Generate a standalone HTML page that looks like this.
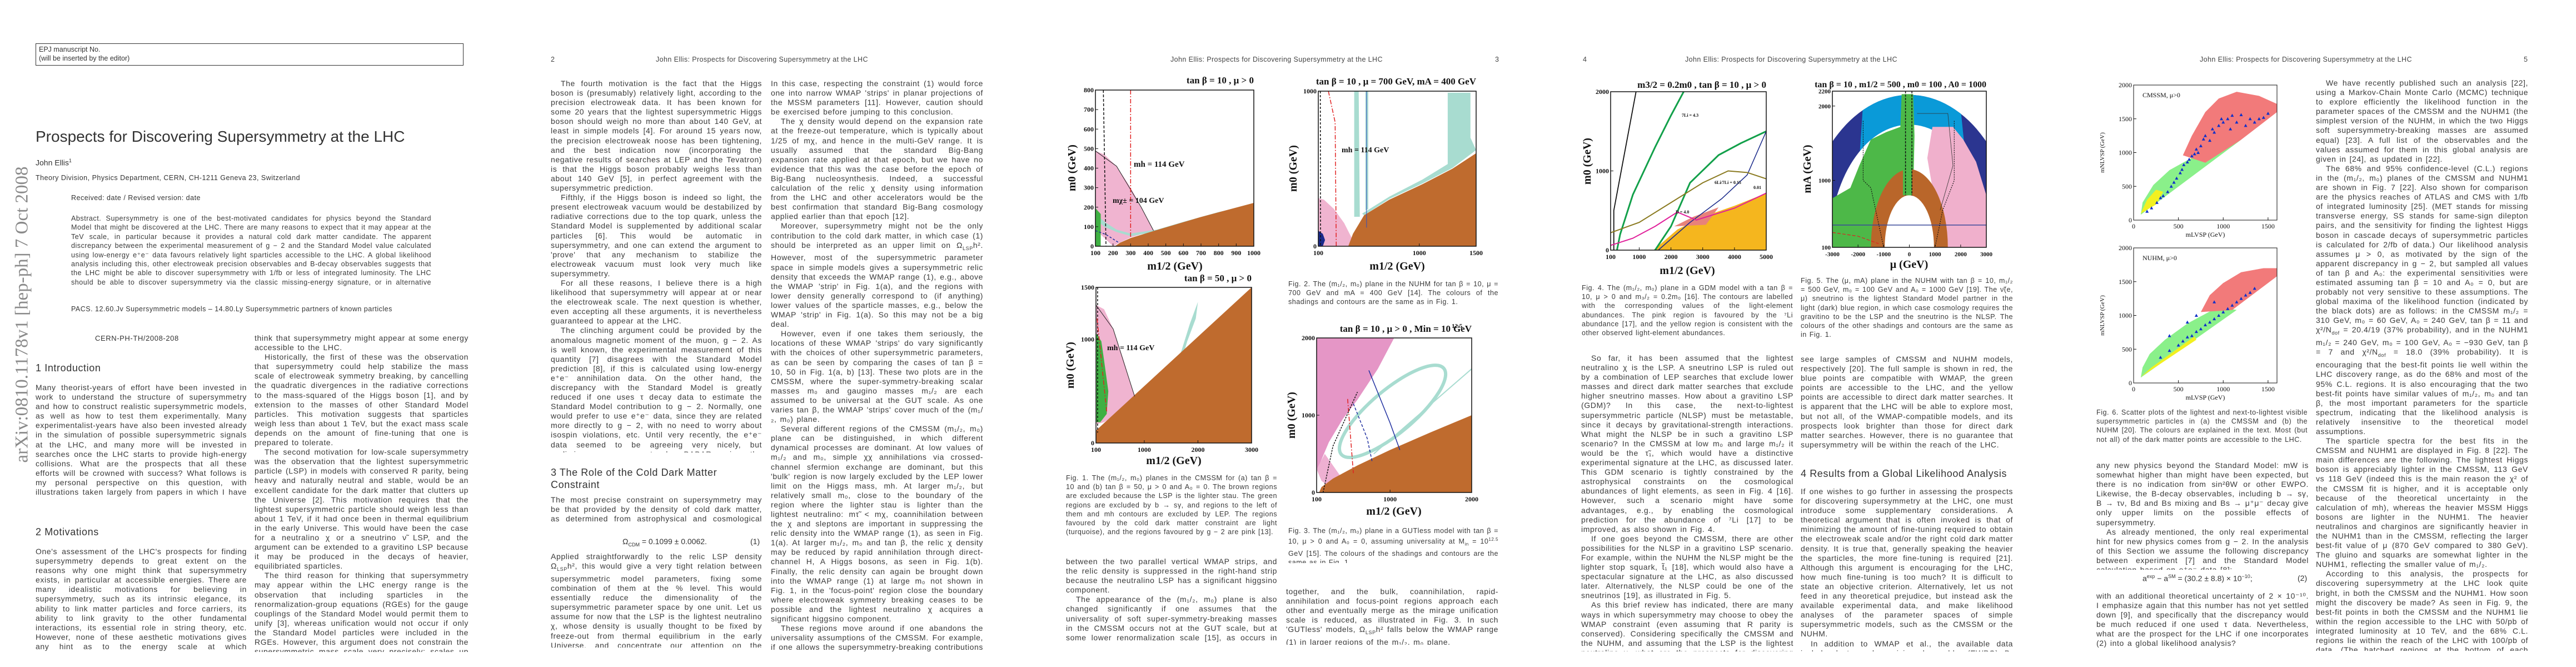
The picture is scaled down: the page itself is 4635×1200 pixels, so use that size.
<!DOCTYPE html>
<html lang="en"><head><meta charset="utf-8">
<style>
html,body{margin:0;padding:0;background:#fff;}
body{width:4635px;height:1200px;position:relative;overflow:hidden;font-family:"Liberation Sans",sans-serif;color:#333;}
.t{position:absolute;font-size:14px;line-height:17.1px;text-align:justify;overflow:hidden;hyphens:auto;color:#3a3a3a;letter-spacing:0.6px;word-spacing:1.5px;}
.t p{margin:0;text-indent:18px;}
.t p.ni{text-indent:0;}
.cap{position:absolute;font-size:12.6px;line-height:16.2px;text-align:justify;overflow:hidden;color:#3a3a3a;letter-spacing:0.5px;word-spacing:1px;}
.hd{position:absolute;font-size:12.5px;color:#444;top:100px;letter-spacing:0.4px;}
.h{position:absolute;font-size:18px;color:#333;letter-spacing:0.6px;}
.eq{position:absolute;font-size:14px;color:#333;}
svg text{font-family:"Liberation Serif",serif;}
</style></head>
<body>
<!-- ============ PAGE 1 ============ -->
<div style="position:absolute;left:64px;top:78px;width:770px;height:40px;border:1.5px solid #333;font-size:12.5px;line-height:16px;padding:2px 5px;box-sizing:border-box;color:#333">EPJ manuscript No.<br>(will be inserted by the editor)</div>
<div style="position:absolute;left:40px;top:566px;transform:translate(-50%,-50%) rotate(-90deg);font-family:'Liberation Serif',serif;font-size:33px;color:#8a8a8a;white-space:nowrap">arXiv:0810.1178v1 [hep-ph] 7 Oct 2008</div>
<div style="position:absolute;left:64px;top:230px;font-size:28px;color:#333;white-space:nowrap">Prospects for Discovering Supersymmetry at the LHC</div>
<div style="position:absolute;left:64px;top:284px;font-size:14px">John Ellis<sup style="font-size:9px">1</sup></div>
<div style="position:absolute;left:64px;top:313px;font-size:12.5px;letter-spacing:0.5px">Theory Division, Physics Department, CERN, CH-1211 Geneva 23, Switzerland</div>
<div style="position:absolute;left:128px;top:349px;font-size:12.5px;letter-spacing:0.5px">Received: date / Revised version: date</div>
<div class="cap" style="left:128px;top:385px;width:648px;height:132px;line-height:16.4px">Abstract. Supersymmetry is one of the best-motivated candidates for physics beyond the Standard Model that might be discovered at the LHC. There are many reasons to expect that it may appear at the TeV scale, in particular because it provides a natural cold dark matter candidate. The apparent discrepancy between the experimental measurement of g − 2 and the Standard Model value calculated using low-energy e⁺e⁻ data favours relatively light sparticles accessible to the LHC. A global likelihood analysis including this, other electroweak precision observables and B-decay observables suggests that the LHC might be able to discover supersymmetry with 1/fb or less of integrated luminosity. The LHC should be able to discover supersymmetry via the classic missing-energy signature, or in alternative phenomenological scenarios. The prospects for discovering supersymmetry at the LHC look very good.</div>
<div style="position:absolute;left:128px;top:549px;font-size:12.5px;letter-spacing:0.5px">PACS. 12.60.Jv Supersymmetric models – 14.80.Ly Supersymmetric partners of known particles</div>
<div style="position:absolute;left:171px;top:601px;font-size:13px;letter-spacing:0.6px">CERN-PH-TH/2008-208</div>
<div class="h" style="left:64px;top:652px">1 Introduction</div>
<div class="t" style="left:64px;top:689px;width:380px;height:206px"><p class="ni">Many theorist-years of effort have been invested in work to understand the structure of supersymmetry and how to construct realistic supersymmetric models, as well as how to test them experimentally. Many experimentalist-years have also been invested already in the simulation of possible supersymmetric signals at the LHC, and many more will be invested in searches once the LHC starts to provide high-energy collisions. What are the prospects that all these efforts will be crowned with success? What follows is my personal perspective on this question, with illustrations taken largely from papers in which I have been a co-author: I apologize in advance for not referring correctly to all the relevant literature.</p></div>
<div class="h" style="left:64px;top:947px">2 Motivations</div>
<div class="t" style="left:64px;top:984px;width:380px;height:190px"><p class="ni">One's assessment of the LHC's prospects for finding supersymmetry depends to great extent on the reasons why one might think that supersymmetry exists, in particular at accessible energies. There are many idealistic motivations for believing in supersymmetry, such as its intrinsic elegance, its ability to link matter particles and force carriers, its ability to link gravity to the other fundamental interactions, its essential role in string theory, etc. However, none of these aesthetic motivations gives any hint as to the energy scale at which supersymmetry might appear. There are, however, various utilitarian reasons to</p></div>
<div class="t" style="left:458px;top:600px;width:385px;height:573px"><p class="ni">think that supersymmetry might appear at some energy accessible to the LHC.</p><p>Historically, the first of these was the observation that supersymmetry could help stabilize the mass scale of electroweak symmetry breaking, by cancelling the quadratic divergences in the radiative corrections to the mass-squared of the Higgs boson [1], and by extension to the masses of other Standard Model particles. This motivation suggests that sparticles weigh less than about 1 TeV, but the exact mass scale depends on the amount of fine-tuning that one is prepared to tolerate.</p><p>The second motivation for low-scale supersymmetry was the observation that the lightest supersymmetric particle (LSP) in models with conserved R parity, being heavy and naturally neutral and stable, would be an excellent candidate for the dark matter that clutters up the Universe [2]. This motivation requires that the lightest supersymmetric particle should weigh less than about 1 TeV, if it had once been in thermal equilibrium in the early Universe. This would have been the case for a neutralino χ or a sneutrino ν̃ LSP, and the argument can be extended to a gravitino LSP because it may be produced in the decays of heavier, equilibriated sparticles.</p><p>The third reason for thinking that supersymmetry may appear within the LHC energy range is the observation that including sparticles in the renormalization-group equations (RGEs) for the gauge couplings of the Standard Model would permit them to unify [3], whereas unification would not occur if only the Standard Model particles were included in the RGEs. However, this argument does not constrain the supersymmetric mass scale very precisely: scales up to about 10 TeV or perhaps more could be compatible with grand unification.</p></div>

<!-- ============ PAGE 2 ============ -->
<div class="hd" style="left:991px">2</div>
<div class="hd" style="left:1180px">John Ellis: Prospects for Discovering Supersymmetry at the LHC</div>
<div class="t" style="left:991px;top:142px;width:380px;height:672px"><p>The fourth motivation is the fact that the Higgs boson is (presumably) relatively light, according to the precision electroweak data. It has been known for some 20 years that the lightest supersymmetric Higgs boson should weigh no more than about 140 GeV, at least in simple models [4]. For around 15 years now, the precision electroweak noose has been tightening, and the best indication now (incorporating the negative results of searches at LEP and the Tevatron) is that the Higgs boson probably weighs less than about 140 GeV [5], in perfect agreement with the supersymmetric prediction.</p><p>Fifthly, if the Higgs boson is indeed so light, the present electroweak vacuum would be destabilized by radiative corrections due to the top quark, unless the Standard Model is supplemented by additional scalar particles [6]. This would be automatic in supersymmetry, and one can extend the argument to 'prove' that any mechanism to stabilize the electroweak vacuum must look very much like supersymmetry.</p><p>For all these reasons, I believe there is a high likelihood that supersymmetry will appear at or near the electroweak scale. The next question is whether, even accepting all these arguments, it is nevertheless guaranteed to appear at the LHC.</p><p>The clinching argument could be provided by the anomalous magnetic moment of the muon, g − 2. As is well known, the experimental measurement of this quantity [7] disagrees with the Standard Model prediction [8], if this is calculated using low-energy e⁺e⁻ annihilation data. On the other hand, the discrepancy with the Standard Model is greatly reduced if one uses τ decay data to estimate the Standard Model contribution to g − 2. Normally, one would prefer to use e⁺e⁻ data, since they are related more directly to g − 2, with no need to worry about isospin violations, etc. Until very recently, the e⁺e⁻ data seemed to be agreeing very nicely, but preliminary measurements by BABAR using the radiative-return method [9] do not agree so well. Until these discrepancies get ironed out, one should take g − 2 cum grano salis!</p></div>
<div class="h" style="left:991px;top:839px;line-height:22px">3 The Role of the Cold Dark Matter<br>Constraint</div>
<div class="t" style="left:991px;top:891px;width:380px;height:52px"><p class="ni">The most precise constraint on supersymmetry may be that provided by the density of cold dark matter, as determined from astrophysical and cosmological measurements by WMAP et al. [10]:</p></div>
<div class="eq" style="left:1120px;top:966px">Ω<sub style="font-size:9px">CDM</sub> = 0.1099 ± 0.0062.</div>
<div class="eq" style="left:1350px;top:966px">(1)</div>
<div class="t" style="left:991px;top:993px;width:380px;height:172px"><p class="ni">Applied straightforwardly to the relic LSP density Ω<sub style="font-size:9px">LSP</sub>h², this would give a very tight relation between supersymmetric model parameters, fixing some combination of them at the % level. This would essentially reduce the dimensionality of the supersymmetric parameter space by one unit. Let us assume for now that the LSP is the lightest neutralino χ, whose density is usually thought to be fixed by freeze-out from thermal equilibrium in the early Universe, and concentrate our attention on the minimal supersymmetric extension of the Standard Model (MSSM).</p></div>
<div class="t" style="left:1387px;top:142px;width:382px;height:1030px"><p class="ni">In this case, respecting the constraint (1) would force one into narrow WMAP 'strips' in planar projections of the MSSM parameters [11]. However, caution should be exercised before jumping to this conclusion.</p><p>The χ density would depend on the expansion rate at the freeze-out temperature, which is typically about 1/25 of mχ, and hence in the multi-GeV range. It is usually assumed that the standard Big-Bang expansion rate applied at that epoch, but we have no evidence that this was the case before the epoch of Big-Bang nucleosynthesis. Indeed, a successful calculation of the relic χ density using information from the LHC and other accelerators would be the best confirmation that standard Big-Bang cosmology applied earlier than that epoch [12].</p><p>Moreover, supersymmetry might not be the only contribution to the cold dark matter, in which case (1) should be interpreted as an upper limit on Ω<sub style="font-size:9px">LSP</sub>h². However, most of the supersymmetric parameter space in simple models gives a supersymmetric relic density that exceeds the WMAP range (1), e.g., above the WMAP 'strip' in Fig. 1(a), and the regions with lower density generally correspond to (if anything) lower values of the sparticle masses, e.g., below the WMAP 'strip' in Fig. 1(a). So this may not be a big deal.</p><p>However, even if one takes them seriously, the locations of these WMAP 'strips' do vary significantly with the choices of other supersymmetric parameters, as can be seen by comparing the cases of tan β = 10, 50 in Fig. 1(a, b) [13]. These two plots are in the CMSSM, where the super-symmetry-breaking scalar masses m₀ and gaugino masses m₁/₂ are each assumed to be universal at the GUT scale. As one varies tan β, the WMAP 'strips' cover much of the (m₁/₂, m₀) plane.</p><p>Several different regions of the CMSSM (m₁/₂, m₀) plane can be distinguished, in which different dynamical processes are dominant. At low values of m₁/₂ and m₀, simple χχ annihilations via crossed-channel sfermion exchange are dominant, but this 'bulk' region is now largely excluded by the LEP lower limit on the Higgs mass, mh. At larger m₁/₂, but relatively small m₀, close to the boundary of the region where the lighter stau is lighter than the lightest neutralino: mτ̃ &lt; mχ, coannihilation between the χ and sleptons are important in suppressing the relic density into the WMAP range (1), as seen in Fig. 1(a). At larger m₁/₂, m₀ and tan β, the relic χ density may be reduced by rapid annihilation through direct-channel H, A Higgs bosons, as seen in Fig. 1(b). Finally, the relic density can again be brought down into the WMAP range (1) at large m₀ not shown in Fig. 1, in the 'focus-point' region close the boundary where electroweak symmetry breaking ceases to be possible and the lightest neutralino χ acquires a significant higgsino component.</p><p>These regions move around if one abandons the universality assumptions of the CMSSM. For example, if one allows the supersymmetry-breaking contributions to the Higgs masses to be non-universal (NUHM), the rapid-annihilation WMAP 'strip' can appear at different values of tan β and m₁/₂, as seen in Fig. 2 [14]. Rapid annihilation through the direct-channel H, A poles suppresses the relic density</p></div>

<!-- ============ PAGE 3 ============ -->
<div class="hd" style="left:2106px">John Ellis: Prospects for Discovering Supersymmetry at the LHC</div>
<div class="hd" style="left:2690px">3</div>
<div class="cap" style="left:2318px;top:503px;width:378px;height:50px">Fig. 2. The (m₁/₂, m₀) plane in the NUHM for tan β = 10, μ = 700 GeV and mA = 400 GeV [14]. The colours of the shadings and contours are the same as in Fig. 1.</div>
<div class="cap" style="left:1918px;top:852px;width:380px;height:115px">Fig. 1. The (m₁/₂, m₀) planes in the CMSSM for (a) tan β = 10 and (b) tan β = 50, μ &gt; 0 and A₀ = 0. The brown regions are excluded because the LSP is the lighter stau. The green regions are excluded by b → sγ, and regions to the left of them and mh contours are excluded by LEP. The regions favoured by the cold dark matter constraint are light (turquoise), and the regions favoured by g − 2 are pink [13].</div>
<div class="cap" style="left:2318px;top:947px;width:378px;height:66px">Fig. 3. The (m₁/₂, m₀) plane in a GUTless model with tan β = 10, μ &gt; 0 and A₀ = 0, assuming universality at M<sub style="font-size:8px">in</sub> = 10<sup style="font-size:8px">12.5</sup> GeV [15]. The colours of the shadings and contours are the same as in Fig. 1.</div>
<div class="t" style="left:1918px;top:1002px;width:380px;height:157px"><p class="ni">between the two parallel vertical WMAP strips, and the relic density is suppressed in the right-hand strip because the neutralino LSP has a significant higgsino component.</p><p>The appearance of the (m₁/₂, m₀) plane is also changed significantly if one assumes that the universality of soft super-symmetry-breaking masses in the CMSSM occurs not at the GUT scale, but at some lower renormalization scale [15], as occurs in some 'mirage unification' models. In this case, the sparticle masses are generally closer</p></div>
<div class="t" style="left:2314px;top:1056px;width:382px;height:104px"><p class="ni">together, and the bulk, coannihilation, rapid-annihilation and focus-point regions approach each other and eventually merge as the mirage unification scale is reduced, as illustrated in Fig. 3. In such 'GUTless' models, Ω<sub style="font-size:9px">LSP</sub>h² falls below the WMAP range (1) in larger regions of the m₁/₂, m₀ plane.</p></div>

<!-- ============ PAGE 4 ============ -->
<div class="hd" style="left:2848px">4</div>
<div class="hd" style="left:3032px">John Ellis: Prospects for Discovering Supersymmetry at the LHC</div>
<div class="cap" style="left:2846px;top:510px;width:380px;height:100px">Fig. 4. The (m₁/₂, m₀) plane in a GDM model with a tan β = 10, μ &gt; 0 and m₃/₂ = 0.2m₀ [16]. The contours are labelled with the corresponding values of the light-element abundances. The pink region is favoured by the ⁷Li abundance [17], and the yellow region is consistent with the other observed light-element abundances.</div>
<div class="cap" style="left:3240px;top:497px;width:382px;height:116px">Fig. 5. The (μ, mA) plane in the NUHM with tan β = 10, m₁/₂ = 500 GeV, m₀ = 100 GeV and A₀ = 1000 GeV [19]. The ν̃(e, μ) sneutrino is the lightest Standard Model partner in the light (dark) blue region, in which case cosmology requires the gravitino to be the LSP and the sneutrino is the NLSP. The colours of the other shadings and contours are the same as in Fig. 1.</div>
<div class="t" style="left:2845px;top:636px;width:382px;height:536px"><p>So far, it has been assumed that the lightest neutralino χ is the LSP. A sneutrino LSP is ruled out by a combination of LEP searches that exclude lower masses and direct dark matter searches that exclude higher sneutrino masses. How about a gravitino LSP (GDM)? In this case, the next-to-lightest supersymmetric particle (NLSP) must be metastable, since it decays by gravitational-strength interactions. What might the NLSP be in such a gravitino LSP scenario? In the CMSSM at low m₀ and large m₁/₂ it would be the τ̃₁, which would have a distinctive experimental signature at the LHC, as discussed later. This GDM scenario is tightly constrained by the astrophysical constraints on the cosmological abundances of light elements, as seen in Fig. 4 [16]. However, such a scenario might have some advantages, e.g., by enabling the cosmological prediction for the abundance of ⁷Li [17] to be improved, as also shown in Fig. 4.</p><p>If one goes beyond the CMSSM, there are other possibilities for the NLSP in a gravitino LSP scenario. For example, within the NUHM the NLSP might be the lighter stop squark, t̃₁ [18], which would also have a spectacular signature at the LHC, as also discussed later. Alternatively, the NLSP could be one of the sneutrinos [19], as illustrated in Fig. 5.</p><p>As this brief review has indicated, there are many ways in which supersymmetry may choose to obey the WMAP constraint (even assuming that R parity is conserved). Considering specifically the CMSSM and the NUHM, and assuming that the LSP is the lightest neutralino χ, what are the prospects for discovering supersymmetry at the LHC in light of WMAP? In the two panels of Fig. 6 you</p></div>
<div class="t" style="left:3240px;top:638px;width:382px;height:172px"><p class="ni">see large samples of CMSSM and NUHM models, respectively [20]. The full sample is shown in red, the blue points are compatible with WMAP, the green points are accessible to the LHC, and the yellow points are accessible to direct dark matter searches. It is apparent that the LHC will be able to explore most, but not all, of the WMAP-compatible models, and its prospects look brighter than those for direct dark matter searches. However, there is no guarantee that supersymmetry will be within the reach of the LHC.</p></div>
<div class="h" style="left:3240px;top:842px">4 Results from a Global Likelihood Analysis</div>
<div class="t" style="left:3240px;top:876px;width:382px;height:296px"><p class="ni">If one wishes to go further in assessing the prospects for discovering supersymmetry at the LHC, one must introduce some supplementary considerations. A theoretical argument that is often invoked is that of minimizing the amount of fine-tuning required to obtain the electroweak scale and/or the right cold dark matter density. It is true that, generally speaking the heavier the sparticles, the more fine-tuning is required [21]. Although this argument is encouraging for the LHC, how much fine-tuning is too much? It is difficult to state an objective criterion. Alternatively, let us not feed in any theoretical prejudice, but instead ask the available experimental data, and make likelihood analyses of the parameter spaces of simple supersymmetric models, such as the CMSSM or the NUHM.</p><p>In addition to WMAP et al., the available data include electroweak precision observables (EWPO), B-decay observables, and g − 2. The EWPO give no firm evidence for</p></div>

<!-- ============ PAGE 5 ============ -->
<div class="hd" style="left:3958px">John Ellis: Prospects for Discovering Supersymmetry at the LHC</div>
<div class="hd" style="left:4541px">5</div>
<div class="cap" style="left:3772px;top:734px;width:380px;height:66px">Fig. 6. Scatter plots of the lightest and next-to-lightest visible supersymmetric particles in (a) the CMSSM and (b) the NUHM [20]. The colours are explained in the text. Most (but not all) of the dark matter points are accessible to the LHC.</div>
<div class="t" style="left:3772px;top:829px;width:382px;height:196px"><p class="ni">any new physics beyond the Standard Model: mW is somewhat higher than might have been expected, but there is no indication from sin²θW or other EWPO. Likewise, the B-decay observables, including b → sγ, B → τν, Bd and Bs mixing and Bs → μ⁺μ⁻ decay give only upper limits on the possible effects of supersymmetry.</p><p>As already mentioned, the only real experimental hint for new physics comes from g − 2. In the analysis of this Section we assume the following discrepancy between experiment [7] and the Standard Model calculation based on e⁺e⁻ data [8]:</p></div>
<div class="eq" style="left:3855px;top:1032px">a<sup style="font-size:9px">exp</sup> − a<sup style="font-size:9px">SM</sup> = (30.2 ± 8.8) × 10<sup style="font-size:9px">−10</sup>;</div>
<div class="eq" style="left:4134px;top:1032px">(2)</div>
<div class="t" style="left:3772px;top:1064px;width:382px;height:108px"><p class="ni">with an additional theoretical uncertainty of 2 × 10⁻¹⁰. I emphasize again that this number has not yet settled down [9], and specifically that the discrepancy would be much reduced if one used τ data. Nevertheless, what are the prospect for the LHC if one incorporates (2) into a global likelihood analysis?</p></div>
<div class="t" style="left:4167px;top:141px;width:382px;height:1030px"><p>We have recently published such an analysis [22], using a Markov-Chain Monte Carlo (MCMC) technique to explore efficiently the likelihood function in the parameter spaces of the CMSSM and the NUHM1 (the simplest version of the NUHM, in which the two Higgs soft supersymmetry-breaking masses are assumed equal) [23]. A full list of the observables and the values assumed for them in this global analysis are given in [24], as updated in [22].</p><p>The 68% and 95% confidence-level (C.L.) regions in the (m₁/₂, m₀) planes of the CMSSM and NUHM1 are shown in Fig. 7 [22]. Also shown for comparison are the physics reaches of ATLAS and CMS with 1/fb of integrated luminosity [25]. (MET stands for missing transverse energy, SS stands for same-sign dilepton pairs, and the sensitivity for finding the lightest Higgs boson in cascade decays of supersymmetric particles is calculated for 2/fb of data.) Our likelihood analysis assumes μ &gt; 0, as motivated by the sign of the apparent discrepancy in g − 2, but sampled all values of tan β and A₀: the experimental sensitivities were estimated assuming tan β = 10 and A₀ = 0, but are probably not very sensitive to these assumptions. The global maxima of the likelihood function (indicated by the black dots) are as follows: in the CMSSM m₁/₂ = 310 GeV, m₀ = 60 GeV, A₀ = 240 GeV, tan β = 11 and χ²/N<sub style="font-size:9px">dof</sub> = 20.4/19 (37% probability), and in the NUHM1 m₁/₂ = 240 GeV, m₀ = 100 GeV, A₀ = −930 GeV, tan β = 7 and χ²/N<sub style="font-size:9px">dof</sub> = 18.0 (39% probability). It is encouraging that the best-fit points lie well within the LHC discovery range, as do the 68% and most of the 95% C.L. regions. It is also encouraging that the two best-fit points have similar values of m₁/₂, m₀ and tan β, the most important parameters for the sparticle spectrum, indicating that the likelihood analysis is relatively insensitive to the theoretical model assumptions.</p><p>The sparticle spectra for the best fits in the CMSSM and NUHM1 are displayed in Fig. 8 [22]. The main differences are the following. The lightest Higgs boson is appreciably lighter in the CMSSM, 113 GeV vs 118 GeV (indeed this is the main reason the χ² of the CMSSM fit is higher, and it is acceptable only because of the theoretical uncertainty in the calculation of mh), whereas the heavier MSSM Higgs bosons are lighter in the NUHM1. The heavier neutralinos and charginos are significantly heavier in the NUHM1 than in the CMSSM, reflecting the larger best-fit value of μ (870 GeV compared to 380 GeV). The gluino and squarks are somewhat lighter in the NUHM1, reflecting the smaller value of m₁/₂.</p><p>According to this analysis, the prospects for discovering supersymmetry at the LHC look quite bright, in both the CMSSM and the NUHM1. How soon might the discovery be made? As seen in Fig. 9, the best-fit points in both the CMSSM and the NUHM1 lie within the region accessible to the LHC with 50/pb of integrated luminosity at 10 TeV, and the 68% C.L. regions lie within the reach of the LHC with 100/pb of data. (The hatched regions at the bottom of each panel of Fig. 9 are those excluded by searches for supersymmetry at LEP and the Tevatron collider.) We see that even modest LHC luminosity, not</p></div>

<svg id="figs" width="4635" height="1200" style="position:absolute;left:0;top:0" xmlns="http://www.w3.org/2000/svg">
<defs>
<clipPath id="c5"><rect x="3297" y="164" width="277" height="281"/></clipPath>
<clipPath id="c5b"><rect x="3297" y="164" width="154" height="281"/></clipPath>
</defs>
</svg>

<script>
// ---------- Fig 1a: CMSSM tan beta = 10 ----------
const f1aXTicks = [100,200,300,400,500,600,700,800,900,1000];
const f1aYTicks = [0,100,200,300,400,500,600,700,800];
const f1aBrown = [[210,0],[1000,0],[1000,222],[700,150],[430,78],[300,42],[240,18]];
const f1aPink = [[100,488],[150,470],[220,410],[300,300],[360,200],[430,80],[300,45],[230,15],[200,0],[130,60],[100,80]];
const f1aTeal = [[100,230],[108,160],[160,120],[220,85],[300,65],[450,85],[600,125],[800,175],[900,195],[900,183],[600,113],[450,75],[300,52],[220,73],[150,100],[100,140]];
const f1aGreen = [[100,0],[130,0],[130,165],[100,195]];
// ---------- Fig 1b: CMSSM tan beta = 50 ----------
const f1bXTicks = [100,1000,2000,3000];
const f1bYTicks = [0,1000,1500];
const f1bBrown = [[100,0],[3000,0],[3000,1500],[100,120]];
const f1bPink = [[100,1330],[250,1290],[420,1100],[600,820],[820,450],[500,280],[250,200],[100,180]];
const f1bGreen = [[100,1060],[200,980],[250,800],[330,500],[300,280],[180,200],[100,200]];
const f1bTeal = [[1550,680],[1700,900],[1850,1150],[2000,1360],[1960,1200],[1800,980],[1640,700]];
// ---------- Fig 2: NUHM ----------
const f2XTicks = [100,1000,1500];
const f2YTicks = [0,1000];
const f2Brown = [[367,0],[1500,0],[1500,600],[1292,500],[1028,400],[733,300],[508,200],[409,80]];
const f2Teal = [[490,210],[733,320],[1028,430],[1250,530],[1250,990],[1450,990],[1450,700],[1500,620],[1292,505],[1028,405],[733,305],[508,200]];
const f2StripA = [[420,190],[420,1000],[460,1000],[470,190]];
const f2StripB = [[520,230],[520,1000],[545,1000],[545,240]];
const f2Pink = [[100,0],[100,310],[150,300],[240,240],[330,150],[400,50],[367,0]];
const f2Navy = [[100,0],[100,100],[140,80],[160,40],[140,0]];
// ---------- Fig 3: GUTless ----------
const f3XTicks = [100,1000,2000];
const f3YTicks = [0,1000,2000];
const f3Pink = [[100,2000],[1050,2000],[850,1600],[600,1200],[420,950],[250,650],[130,350],[100,300]];
const f3PinkSmall = [[100,300],[200,500],[400,200],[250,80],[160,150]];
const f3Brown = [[130,0],[2000,0],[2000,1000],[1500,780],[1000,550],[600,350],[300,180],[160,70]];
const f3EllipseCenter = [1030,1050];
const f3EllipseRadii = [820,280];
const f3TealLine = [[800,500],[2000,1600]];
// ---------- Fig 4: GDM ----------
const f4XTicks = [100,1000,2000,3000,4000,5000];
const f4YTicks = [0,1000,2000];
const f4Yellow = [[1450,0],[5000,0],[5000,720],[4000,560],[3000,420],[2200,260]];
const f4Salmon = [[2100,300],[3100,320],[3500,540],[2700,420]];
const f4Black = [[200,0],[200,500],[900,2000]];
const f4Green1 = [[300,0],[400,200],[800,700],[1500,1300],[2000,1700],[2400,2000]];
const f4Green2 = [[1500,0],[2000,300],[2600,850],[3500,1200],[4200,1350],[5000,1500]];
const f4Blue = [[1600,0],[2600,350],[3600,650],[4400,950],[5000,1500]];
const f4Olive = [[100,220],[1000,350],[2000,600],[3000,850],[3800,1000],[4400,980],[5000,900]];
const f4Magenta = [[100,60],[800,150],[1500,300],[2200,480],[2800,380],[4000,530],[5000,720]];
// ---------- Fig 5: (mu, mA) ----------
const f5XTicks = [-3000,-2000,-1000,0,1000,2000,3000];
const f5YTicks = [100,1000,2000,2200];
const f5OuterRing = [0,100,4160,2050];
const f5InnerRing = [0,100,3110,1650];
const f5BrownOuter = [0,100,1500,1050];
const f5BrownInner = [0,100,960,700];
const f5Green = [[-3000,100],[-3000,760],[-2300,900],[-1950,1200],[-1500,1550],[-900,1650],[-350,1720],[-300,2160],[150,2160],[200,1600],[150,800],[-1500,100]];
const f5Pink = [[1300,100],[3000,100],[3000,800],[2600,1250],[2100,1550],[1700,1720],[900,1720],[700,1300],[1000,700]];
const f5HLine = 400;
// ---------- Fig 6: scatter ----------
const f6XTicks = [0,500,1000,1500];
const f6YTicks = [0,500,1000,1500,2000];
const f6aGreen = [[80,80],[1200,1190],[1100,1230],[700,960],[400,740],[220,520],[100,260]];
const f6aRed = [[550,960],[650,1250],[800,1600],[950,1800],[1150,1900],[1400,1840],[1600,1720],[1600,1600],[1200,1190],[800,850]];
const f6aYellow = [[80,100],[250,230],[330,420],[250,450],[150,300]];
const f6aBlue = [[150,130],[200,180],[260,260],[300,330],[330,360],[380,420],[420,500],[450,560],[480,620],[520,700],[540,750],[560,820],[600,860],[620,900],[650,950],[680,980],[700,1050],[720,1000],[750,1100],[780,1200],[800,1250],[850,1180],[880,1350],[900,1300],[950,1400],[980,1500],[1000,1450],[1050,1500],[1080,1350],[1100,1550],[1150,1450],[1200,1560],[1250,1400],[1300,1500],[1350,1450],[1400,1500],[1450,1520],[1500,1580]];
const f6bGreen = [[80,80],[1150,1080],[950,1130],[600,880],[350,640],[180,430],[100,230]];
const f6bRed = [[750,1050],[850,1300],[1000,1480],[1200,1640],[1450,1700],[1600,1700],[1600,1580],[1100,1080]];
const f6bYellow = [[80,90],[700,640],[680,690],[200,230]];
const f6bBlue = [[300,380],[400,480],[500,560],[550,620],[600,680],[650,700],[700,760],[750,800],[800,860],[850,900],[900,950],[950,1000],[1000,1050],[1050,1100],[1100,1150],[1150,1200],[1200,1250],[1250,1300],[1300,1340],[1350,1400],[400,700],[600,900],[700,1000],[900,1200]];

const NS = 'http://www.w3.org/2000/svg';
const root = document.getElementById('figs');
function lin(d0,d1,r0,r1){return v => r0 + (v-d0)/(d1-d0)*(r1-r0);}
function piece(ds,rs){return v=>{for(let i=0;i<ds.length-1;i++){if(v<=ds[i+1]||i===ds.length-2){return rs[i]+(v-ds[i])/(ds[i+1]-ds[i])*(rs[i+1]-rs[i]);}}};}
function mk(tag,attrs,parent){const e=document.createElementNS(NS,tag);for(const k in attrs)e.setAttribute(k,attrs[k]);(parent||root).appendChild(e);return e;}
function poly(g,pts,sx,sy,fill,name){
  const p=mk('polygon',{points:pts.map(q=>sx(q[0])+','+sy(q[1])).join(' '),fill:fill},g);
  
  
  return p;}
function line(g,pts,sx,sy,stroke,w,dash,name){
  const p=mk('polyline',{points:pts.map(q=>sx(q[0])+','+sy(q[1])).join(' '),fill:'none',stroke:stroke,'stroke-width':w},g);
  if(dash)p.setAttribute('stroke-dasharray',dash);
  
  
  return p;}
function txt(g,x,y,s,opt){
  const t=mk('text',Object.assign({x:x,y:y,'font-size':13,'font-weight':'bold',fill:'#111'},opt||{}),g);
  t.textContent=s;
  
  
  return t;}
function frame(g,box,sx,sy,xt,yt,opts){
  opts=opts||{};
  const [x0,x1,y0,y1]=box;
  const r=mk('rect',{x:x0,y:y0,width:x1-x0,height:y1-y0,fill:'none',stroke:'#111','stroke-width':opts.sw||1.5},g);
  
  
  xt.forEach(v=>{const x=sx(v);mk('line',{x1:x,x2:x,y1:y1,y2:y1-5,stroke:'#111'},g);
    txt(g,x,y1+(opts.xoff||16),String(v),{'text-anchor':'middle','font-size':opts.fs||13,'font-weight':opts.fw||'bold','font-family':opts.ff||'Liberation Serif, serif'});});
  yt.forEach(v=>{const y=sy(v);mk('line',{x1:x0,x2:x0+5,y1:y,y2:y,stroke:'#111'},g);
    txt(g,x0-3,y+4,String(v),{'text-anchor':'end','font-size':opts.fs||13,'font-weight':opts.fw||'bold','font-family':opts.ff||'Liberation Serif, serif'});});
}
function group(name){const g=mk('g',{});return g;}
function ylab(g,x,y,s,fs){const t=txt(g,x,y,s,{'font-size':fs||20,'text-anchor':'middle',transform:'rotate(-90 '+x+' '+y+')'});return t;}

const BROWN='#bf6b2e',PINK='#f0b4d0',TEAL='#a8dcd0',GREEN='#3fb043';

// Fig 1a
(function(){
 const g=group('fig1a-cmssm-tb10');const box=[1971,2256,162,443];
 const sx=lin(100,1000,box[0],box[1]), sy=lin(0,800,box[3],box[2]);
 poly(g,f1aPink,sx,sy,PINK,'gminus2-pink-region');
 poly(g,f1aTeal,sx,sy,TEAL,'wmap-teal-strip');
 poly(g,f1aBrown,sx,sy,BROWN,'stau-lsp-brown-region');
 poly(g,f1aGreen,sx,sy,GREEN,'bsgamma-green-region');
 line(g,[[100,488],[220,410],[360,200],[430,80]],sx,sy,'#222',1,null,'pink-boundary');
 line(g,[[145,800],[160,0]],sx,sy,'#111',1.5,'5,3','chargino-mass-line');
 line(g,[[300,800],[300,40]],sx,sy,'#e02020',1.5,'8,3,2,3','higgs-mass-line');
 line(g,[[100,80],[160,60],[230,20]],sx,sy,'#2030a0',1.5,'4,3','blue-dashed-line');
 frame(g,box,sx,sy,f1aXTicks,f1aYTicks,{fs:12});
 txt(g,box[1],150,'tan β = 10 ,  μ > 0',{'text-anchor':'end','font-size':17});
 txt(g,2040,300,'mh = 114 GeV',{'font-size':15});
 txt(g,2002,365,'mχ± = 104 GeV',{'font-size':14});
 ylab(g,1935,302,'m0 (GeV)');
 txt(g,2114,485,'m1/2 (GeV)',{'text-anchor':'middle','font-size':20});
})();
// Fig 1b
(function(){
 const g=group('fig1b-cmssm-tb50');const box=[1972,2252,517,797];
 const sx=lin(100,3000,box[0],box[1]), sy=lin(0,1500,box[3],box[2]);
 poly(g,f1bPink,sx,sy,PINK,'gminus2-pink-region');
 poly(g,f1bGreen,sx,sy,GREEN,'bsgamma-green-region');
 poly(g,f1bTeal,sx,sy,TEAL,'wmap-teal-strip');
 poly(g,f1bBrown,sx,sy,BROWN,'stau-lsp-brown-region');
 line(g,[[100,1330],[420,1100],[820,450]],sx,sy,'#222',1,null,'pink-boundary');
 line(g,[[130,1500],[130,100]],sx,sy,'#111',1.5,'4,3','chargino-mass-line');
 line(g,[[120,1200],[300,300]],sx,sy,'#e02020',1.5,'8,3,2,3','higgs-mass-line');
 frame(g,box,sx,sy,f1bXTicks,f1bYTicks,{fs:12});
 txt(g,box[1],506,'tan β = 50 ,  μ > 0',{'text-anchor':'end','font-size':17});
 txt(g,1992,630,'mh = 114 GeV',{'font-size':14});
 ylab(g,1932,657,'m0 (GeV)');
 txt(g,2112,835,'m1/2 (GeV)',{'text-anchor':'middle','font-size':20});
})();
// Fig 2
(function(){
 const g=group('fig2-nuhm');const box=[2372,2656,164,443];
 const sx=piece([100,1000,1500],[box[0],box[0]+0.64*(box[1]-box[0]),box[1]]), sy=lin(0,1000,box[3],box[2]);
 poly(g,f2Teal,sx,sy,TEAL,'wmap-teal-band');
 poly(g,f2StripA,sx,sy,TEAL,'wmap-teal-strip-a');
 poly(g,f2StripB,sx,sy,TEAL,'wmap-teal-strip-b');
 poly(g,f2Pink,sx,sy,PINK,'gminus2-pink-region');
 poly(g,f2Brown,sx,sy,BROWN,'stau-lsp-brown-region');
 poly(g,f2Navy,sx,sy,'#1a2a8a','navy-region');
 line(g,[[530,1000],[530,120]],sx,sy,'#3050c0',1,null,'blue-line');
 line(g,[[118,1000],[120,0]],sx,sy,'#111',1.5,'4,3','chargino-mass-line');
 line(g,[[190,1000],[250,800],[260,0]],sx,sy,'#e02020',1.5,'8,3,2,3','higgs-mass-line');
 frame(g,box,sx,sy,f2XTicks,f2YTicks,{fs:12});
 txt(g,box[1],152,'tan β = 10 ,  μ = 700 GeV,  mA = 400 GeV',{'text-anchor':'end','font-size':17});
 txt(g,2414,274,'mh = 114 GeV',{'font-size':14});
 ylab(g,2333,303,'m0 (GeV)');
 txt(g,2514,485,'m1/2 (GeV)',{'text-anchor':'middle','font-size':20});
})();
// Fig 3
(function(){
 const g=group('fig3-gutless');const box=[2369,2648,608,886];
 const sx=lin(100,2000,box[0],box[1]), sy=lin(0,2000,box[3],box[2]);
 poly(g,f3Pink,sx,sy,'#e596c6','gminus2-pink-region');
 poly(g,f3PinkSmall,sx,sy,'#eeb0d2','small-pink-region');
 const cx=sx(f3EllipseCenter[0]),cy=sy(f3EllipseCenter[1]);
 const e=mk('ellipse',{cx:cx,cy:cy,rx:(sx(f3EllipseRadii[0])-sx(0)),ry:(sy(0)-sy(f3EllipseRadii[1])),fill:'none',stroke:TEAL,'stroke-width':6,transform:'rotate(-40 '+cx+' '+cy+')'},g);
 
 
 line(g,f3TealLine,sx,sy,TEAL,2,null,'wmap-teal-line');
 poly(g,f3Brown,sx,sy,BROWN,'stau-lsp-brown-region');
 line(g,[[480,1210],[550,250]],sx,sy,'#e02020',1.5,'8,3,2,3','higgs-mass-line');
 line(g,[[550,1150],[720,700],[780,400]],sx,sy,'#2030a0',1.5,'5,3','blue-dashed-line');
 line(g,[[740,1580],[1000,900],[1120,550]],sx,sy,'#2030a0',1.5,null,'blue-solid-line');
 line(g,[[180,0],[300,600],[600,1300]],sx,sy,'#111',1.5,'3,2','chargino-mass-line');
 frame(g,box,sx,sy,f3XTicks,f3YTicks,{fs:12});
 txt(g,box[1],597,'tan β = 10 ,  μ > 0 , Min = 10',{'text-anchor':'end','font-size':17,'dx':-38});
 txt(g,box[1]-36,590,'12.5',{'font-size':11});
 txt(g,box[1],597,'GeV',{'text-anchor':'end','font-size':17});
 ylab(g,2330,747,'m0 (GeV)');
 txt(g,2508,926,'m1/2 (GeV)',{'text-anchor':'middle','font-size':20});
})();
// Fig 4
(function(){
 const g=group('fig4-gdm');const box=[2898,3178,165,450];
 const sx=lin(100,5000,box[0],box[1]), sy=lin(0,2000,box[3],box[2]);
 poly(g,f4Yellow,sx,sy,'#f5b61e','light-element-yellow-region');
 poly(g,f4Salmon,sx,sy,'#e8827a','li7-pink-region');
 line(g,f4Black,sx,sy,'#111',1.8,null,'black-contour');
 line(g,f4Green1,sx,sy,'#12a04a',3,null,'li7-green-contour');
 line(g,f4Green2,sx,sy,'#12a04a',3,null,'li6-green-contour');
 line(g,f4Blue,sx,sy,'#1a2a8a',1.5,null,'blue-contour');
 line(g,f4Olive,sx,sy,'#8a7a20',2,null,'olive-contour');
 line(g,f4Magenta,sx,sy,'#e0209a',2,null,'deuterium-contour');
 frame(g,box,sx,sy,f4XTicks,f4YTicks,{fs:12});
 txt(g,box[1],158,'m3/2 = 0.2m0 , tan β = 10 ,  μ > 0',{'text-anchor':'end','font-size':17});
 txt(g,3026,210,'7Li = 4.3',{'font-size':8});
 txt(g,3085,331,'6Li/7Li = 0.15',{'font-size':8});
 txt(g,3155,340,'0.01',{'font-size':8});
 txt(g,3015,384,'D = 4.0',{'font-size':8});
 ylab(g,2862,290,'m0 (GeV)');
 txt(g,3036,493,'m1/2 (GeV)',{'text-anchor':'middle','font-size':20});
})();
// Fig 5
(function(){
 const g=group('fig5-mu-ma');const box=[3297,3574,164,445];
 const sx=lin(-3000,3000,box[0],box[1]), sy=lin(100,2200,box[3],box[2]);
 const kx=(box[1]-box[0])/6000, ky=(box[3]-box[2])/2100;
 function ell(p,fill,name,clip){const e=mk('ellipse',{cx:sx(p[0]),cy:sy(p[1]),rx:p[2]*kx,ry:p[3]*ky,fill:fill,'clip-path':'url(#'+clip+')'},g);return e;}
 ell(f5OuterRing,'#2b3590','sneutrino-dark-blue-ring','c5');
 const lb=mk('g',{'clip-path':'url(#c5)'},g);
 const e2=mk('ellipse',{cx:sx(f5OuterRing[0]),cy:sy(f5OuterRing[1]),rx:f5OuterRing[2]*kx,ry:f5OuterRing[3]*ky,fill:'#0a9ad8'},lb);
 
 
 const cl=mk('clipPath',{id:'c5lb'},root.querySelector('defs'));
 mk('polygon',{points:[[-1950,1280],[-1750,2300],[1900,2300],[2200,1280]].map(q=>sx(q[0])+','+sy(q[1])).join(' ')},cl);
 e2.setAttribute('clip-path','url(#c5lb)');
 ell(f5InnerRing,'#ffffff','inner-white-region','c5');
 const gg=mk('g',{'clip-path':'url(#c5)'},g);
 poly(gg,f5Green,sx,sy,'#4db848','bsgamma-green-region');
 poly(gg,f5Pink,sx,sy,'#f0b0cc','gminus2-pink-region');
 ell(f5BrownOuter,'#b9662a','stau-brown-arch','c5');
 ell(f5BrownInner,'#ffffff','arch-white-core','c5');
 poly(g,[[-250,800],[100,800],[100,1200],[-250,1200]],sx,sy,'#4db848','central-green-column');
 line(g,[[-3000,f5HLine],[3000,f5HLine]],sx,sy,'#3a4a9a',1.5,null,'horizontal-contour');
 line(g,[[-150,2200],[-150,800]],sx,sy,'#111',1.5,'4,2','dashed-center-left');
 line(g,[[100,2200],[100,800]],sx,sy,'#111',1.5,'4,2','dashed-center-right');
 line(g,[[-1800,1800],[-1800,1000],[-1500,900],[-1000,100]],sx,sy,'#111',1.2,'2,2','dotted-contour-left');
 line(g,[[1750,1800],[1750,1000],[1300,600],[1000,100]],sx,sy,'#111',1.2,'2,2','dotted-contour-right');
 line(g,[[300,1900],[1500,1900],[1700,1200],[1200,600]],sx,sy,'#333',0.8,null,'thin-contour');
 line(g,[[-3000,300],[-2000,250],[-1200,150]],sx,sy,'#e02020',1.2,'6,3','red-dashed-contour');
 frame(g,box,sx,sy,f5XTicks,f5YTicks,{fs:11});
 txt(g,box[1],157,'tan β = 10 ,  m1/2 = 500 ,  m0 = 100 , A0 = 1000',{'text-anchor':'end','font-size':16});
 ylab(g,3258,304,'mA (GeV)');
 txt(g,3435,482,'μ (GeV)',{'text-anchor':'middle','font-size':20});
})();
// Fig 6
function scatter(name,box,green,red,yellow,blue,label){
 const g=group(name);
 const sx=lin(0,1600,box[0],box[1]), sy=lin(0,2000,box[3],box[2]);
 poly(g,green,sx,sy,'#8af08a','lhc-accessible-green-points');
 poly(g,red,sx,sy,'#f27a7a','full-sample-red-points');
 poly(g,yellow,sx,sy,'#f2f020','direct-detection-yellow-points');
 blue.forEach(p=>{const x=sx(p[0]),y=sy(p[1]);
   const t=mk('polygon',{points:(x-3)+','+(y+2.5)+' '+(x+3)+','+(y+2.5)+' '+x+','+(y-3),fill:'#1030c8'},g);
   
   });
 frame(g,box,sx,sy,f6XTicks,f6YTicks,{fs:12,fw:'normal',ff:'Liberation Sans, sans-serif',sw:1,xoff:15});
 txt(g,box[0]+16,box[2]+22,label,{'font-size':12,'font-weight':'normal','font-family':'Liberation Sans, sans-serif'});
 ylab(g,3786,(box[2]+box[3])/2,'mNLVSP (GeV)',11).setAttribute('font-weight','normal');
 txt(g,(box[0]+box[1])/2,box[3]+30,'mLVSP (GeV)',{'text-anchor':'middle','font-size':12,'font-weight':'normal','font-family':'Liberation Sans, sans-serif'});
}
scatter('fig6a-cmssm-scatter',[3839,4097,153,396],f6aGreen,f6aRed,f6aYellow,f6aBlue,'CMSSM, μ>0');
scatter('fig6b-nuhm-scatter',[3839,4097,446,689],f6bGreen,f6bRed,f6bYellow,f6bBlue,'NUHM, μ>0');
</script>
</body></html>
